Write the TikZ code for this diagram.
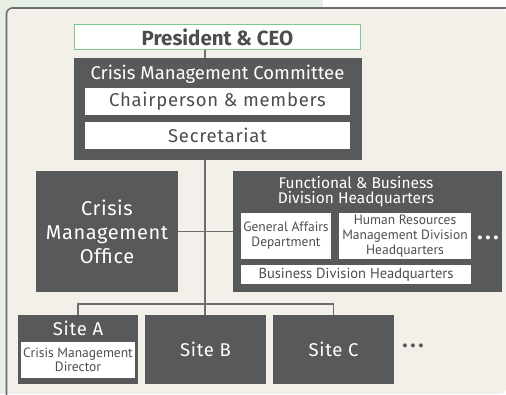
\documentclass[tikz,border=0pt]{standalone}
\usepackage{fontspec}
\setmainfont{Fira Sans}
\newfontfamily\narrowfont{PT Sans}
\usetikzlibrary{positioning,calc}
\definecolor{Charcoal}{HTML}{58595B}
\definecolor{Beige}{HTML}{F3F0E9}
\definecolor{Mint}{HTML}{E5EFE3}
\definecolor{Leaf}{HTML}{7DCB8A}
\definecolor{Frame}{HTML}{6D6E70}
\definecolor{Ink}{HTML}{4D4D4F}
\newcommand{\bigtext}{\fontsize{18.5}{20}\selectfont}
\newcommand{\smalltext}{\narrowfont\fontsize{13.5}{15}\selectfont}
\newcommand{\sitetext}{\fontsize{18.5}{20}\selectfont\addfontfeatures{LetterSpace=4}}
\tikzset{
 darkbox/.style={fill=Charcoal, text=white, inner sep=0pt, align=center},
 whitebox/.style={fill=white, text=Ink, inner sep=0pt, align=center},
 headtext/.style={text=white, inner sep=0pt, align=center},
 link/.style={draw=Frame, line width=1.3pt},
 dots/.style={text=white, inner sep=0pt, font=\fontsize{22}{22}\selectfont\bfseries\addfontfeatures{LetterSpace=12}}
}
\begin{document}
\begin{tikzpicture}[x=1pt,y=-1pt]
\useasboundingbox (0,0) rectangle (506,394);
% background and panel
\fill[white] (0,0) rectangle (506,394);
\fill[Mint] (0,0) rectangle (323,394);
\fill[Beige] (6.5,394) -- (6.5,8) [rounded corners=6pt] -- (6.5,8) -- (506,8) -- (506,394) -- cycle;
\draw[Frame, line width=1.6pt, rounded corners=6pt] (6.5,395) -- (6.5,8) -- (507,8);
\coordinate (spine) at (205,0);

% top of the chain
\node[whitebox, draw=Leaf, line width=1.3pt, minimum width=286pt, minimum height=25pt,
  font=\fontsize{20.5}{20}\selectfont\bfseries] (ceo) at (217.5,37) {President \& CEO};
\node[darkbox, minimum width=288pt, minimum height=102pt] (cmc) at (218,109) {};
\node[headtext, font=\bigtext] (cmctitle) at (217.5,74) {Crisis Management Committee};
\node[whitebox, minimum width=265pt, minimum height=27pt, font=\bigtext\addfontfeatures{LetterSpace=4}] (chair) at (217.5,101.5) {Chairperson \& members};
\node[whitebox, minimum width=265pt, minimum height=27pt, font=\bigtext\addfontfeatures{LetterSpace=4}] (secr) at (217.5,135.5) {Secretariat};

% middle row
\node[darkbox, minimum width=142pt, minimum height=121pt,
  font=\fontsize{20}{24}\selectfont\addfontfeatures{LetterSpace=3}] (cmo) at (107,231.5) {Crisis\\Management\\Office};
\node[darkbox, minimum width=269pt, minimum height=121pt] (fbdh) at (367.5,231.5) {};
\node[headtext, font=\fontsize{15.5}{15}\selectfont] (fbdhtitle) at (356,192) {Functional \& Business\\Division Headquarters};
\node[whitebox, minimum width=90pt, minimum height=46pt, font=\smalltext] (gad) at (286,236) {General Affairs\\Department};
\node[whitebox, minimum width=132pt, minimum height=46pt, font=\smalltext] (hrm) at (405,236) {Human Resources\\Management Division\\Headquarters};
\node[whitebox, minimum width=230pt, minimum height=19pt, font=\narrowfont\fontsize{14.5}{15}\selectfont] (bdh) at (356,274.5) {Business Division Headquarters};
\node[dots] (fdots) at (488,238) {...};

% sites
\node[darkbox, minimum width=120pt, minimum height=69pt] (sitea) at (78,349.5) {};
\node[headtext, font=\sitetext] (siteatitle) at (78,328) {Site A};
\node[whitebox, minimum width=114pt, minimum height=36pt, font=\narrowfont\fontsize{13.5}{14}\selectfont] (cmd) at (78,360) {Crisis Management\\Director};
\node[darkbox, minimum width=121pt, minimum height=69pt, font=\sitetext] (siteb) at (205.5,349.5) {Site B};
\node[darkbox, minimum width=121pt, minimum height=69pt, font=\sitetext] (sitec) at (333.5,349.5) {Site C};
\node[dots, text=Charcoal] (sdots) at (413,346) {...};

% connectors
\draw[link] (ceo.south -| spine) -- (cmc.north -| spine);
\draw[link] (cmc.south -| spine) -- (siteb.north -| spine);
\draw[link] (cmo.east) -- (fbdh.west |- cmo.east);
\coordinate (bar) at (0,304);
\draw[link] (sitea.north) -- (sitea.north |- bar) -- (sitec.north |- bar) -- (sitec.north);
\end{tikzpicture}
\end{document}
